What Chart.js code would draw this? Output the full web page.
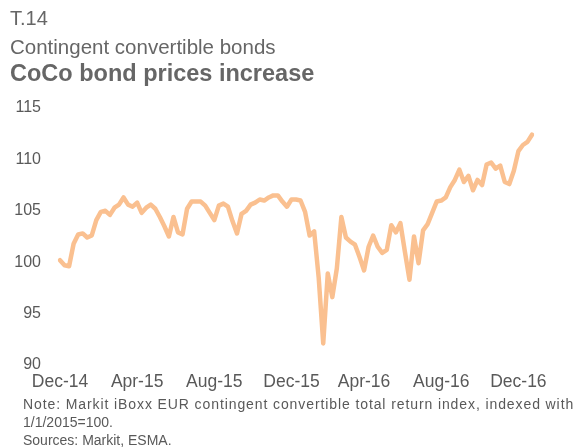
<!DOCTYPE html>
<html>
<head>
<meta charset="utf-8">
<script src="https://cdn.jsdelivr.net/npm/chart.js@4"></script>
<style>
  html, body { margin: 0; padding: 0; background: #ffffff; }
  #wrap { position: relative; width: 579px; height: 448px; overflow: hidden; font-family: "Liberation Sans", Arial, sans-serif; }
  #chart { position: absolute; left: 0; top: 0; }
  .t { position: absolute; left: 10px; white-space: nowrap; color: #666666; line-height: 1; }
  .n { position: absolute; left: 23px; white-space: nowrap; color: #595959; font-size: 14px; line-height: 1; }
</style>
</head>
<body>
<div id="wrap">
  <canvas id="chart" width="579" height="448"></canvas>
  <div class="t" style="top:8px;font-size:20px;">T.14</div>
  <div class="t" style="top:37px;font-size:20.5px;">Contingent convertible bonds</div>
  <div class="t" style="top:62px;font-size:23.5px;font-weight:bold;">CoCo bond prices increase</div>
  <div class="n" style="top:396.5px;letter-spacing:0.9px;">Note: Markit iBoxx EUR contingent convertible total return index, indexed with</div>
  <div class="n" style="top:414.8px;">1/1/2015=100.</div>
  <div class="n" style="top:432.5px;">Sources: Markit, ESMA.</div>
</div>
<script>
// Weekly observations, first week of January 2015 to end of December 2016
const startDate = new Date(Date.UTC(2015, 0, 2));
const values = [
  100.2, 99.7, 99.6, 101.8, 102.7, 102.8, 102.4, 102.6, 104.1, 104.9,
  105.0, 104.6, 105.3, 105.6, 106.3, 105.6, 105.4, 105.8, 104.8, 105.3,
  105.6, 105.2, 104.4, 103.5, 102.5, 104.4, 102.9, 102.7, 105.2, 105.9,
  105.9, 105.9, 105.5, 104.8, 104.1, 105.5, 105.7, 105.4, 104.0, 102.8,
  104.7, 105.0, 105.6, 105.8, 106.1, 106.0, 106.3, 106.5, 106.5, 105.9,
  105.4, 106.1, 106.1, 106.0, 104.9, 102.6, 103.0, 98.5, 92.1, 98.9,
  96.6, 99.4, 104.4, 102.4, 102.0, 101.7, 100.5, 99.2, 101.5, 102.6,
  101.5, 100.9, 101.2, 103.6, 102.9, 103.8, 101.0, 98.3, 102.5, 99.9,
  103.1, 103.7, 104.8, 105.9, 106.0, 106.3, 107.3, 108.0, 109.0, 107.8,
  108.4, 107.0, 108.0, 107.5, 109.5, 109.7, 109.1, 109.4, 107.8, 107.6,
  108.9, 110.8, 111.4, 111.7, 112.4
];
const categories = values.map((v, i) => {
  const d = new Date(startDate.getTime() + i * 7 * 86400000);
  return d.toISOString().slice(0, 10);
});
const tickLabels = ['Dec-14', 'Apr-15', 'Aug-15', 'Dec-15', 'Apr-16', 'Aug-16', 'Dec-16'];
const tickWeeks = [0, 17, 34, 51, 67, 84, 101];
const yTicks = [90, 95, 100, 105, 110, 115];

const tickMap = {};
tickWeeks.forEach((w, k) => { tickMap[w] = tickLabels[k]; });

new Chart(document.getElementById('chart'), {
  type: 'line',
  data: {
    labels: categories,
    datasets: [{
      data: values,
      borderColor: '#FAC090',
      borderWidth: 4.5,
      pointRadius: 0,
      tension: 0,
      borderJoinStyle: 'round',
      borderCapStyle: 'round',
      fill: false
    }]
  },
  options: {
    responsive: false,
    animation: false,
    layout: { padding: { left: 14, right: 47, top: 108, bottom: 57 } },
    plugins: { legend: { display: false }, tooltip: { enabled: false }, title: { display: false } },
    scales: {
      x: {
        type: 'category',
        offset: false,
        grid: { display: false, drawTicks: false },
        border: { display: false },
        afterFit: function (s) { s.height = 26; s.paddingLeft = 0; s.paddingRight = 0; },
        ticks: {
          autoSkip: false,
          maxRotation: 0,
          minRotation: 0,
          padding: 7,
          color: '#595959',
          font: { family: '"Liberation Sans", Arial, sans-serif', size: 17.5 },
          callback: function (val, idx) { return tickMap[idx] !== undefined ? tickMap[idx] : ''; }
        }
      },
      y: {
        min: yTicks[0],
        max: yTicks[yTicks.length - 1],
        grid: { display: false, drawTicks: false },
        border: { display: false },
        afterBuildTicks: function (scale) { scale.ticks = yTicks.map(v => ({ value: v })); },
        afterFit: function (s) { s.width = 46; },
        ticks: {
          padding: 19,
          color: '#595959',
          font: { family: '"Liberation Sans", Arial, sans-serif', size: 16 }
        }
      }
    }
  }
});
</script>
</body>
</html>
